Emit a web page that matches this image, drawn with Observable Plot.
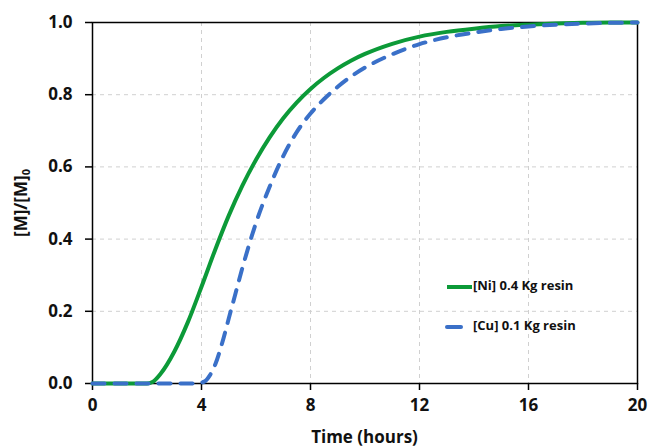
<!DOCTYPE html>
<html>
<head>
<meta charset="utf-8">
<script src="https://cdn.jsdelivr.net/npm/d3@7"></script>
<script src="https://cdn.jsdelivr.net/npm/@observablehq/plot@0.6"></script>
<style>
  html, body { margin: 0; padding: 0; background: #fff; }
  #chart { width: 651px; height: 447px; }
  svg { font-family: "Open Sans", sans-serif; }
</style>
</head>
<body>
<div id="chart"></div>
<script>
// Data
const timeNi = [0, 1, 2, 2.2, 2.5, 3, 3.5, 4, 4.5, 5, 5.5, 6, 6.5, 7, 7.5, 8, 8.5, 9, 9.5, 10, 11, 12, 13, 14, 15, 16, 17, 18, 19, 20];
const valueNi = [0, 0, 0, 0.004, 0.027, 0.088, 0.17, 0.268, 0.37, 0.465, 0.548, 0.62, 0.682, 0.735, 0.779, 0.816, 0.847, 0.873, 0.895, 0.913, 0.941, 0.961, 0.974, 0.983, 0.99, 0.994, 0.997, 0.999, 1, 1];
const timeCu = [0, 1, 2, 3, 3.8, 4.1, 4.3, 4.5, 4.75, 5, 5.25, 5.5, 5.75, 6, 6.5, 7, 7.5, 8, 8.5, 9, 9.5, 10, 11, 12, 13, 14, 15, 16, 17, 18, 19, 20];
const valueCu = [0, 0, 0, 0, 0, 0.005, 0.022, 0.052, 0.11, 0.18, 0.25, 0.32, 0.385, 0.445, 0.545, 0.63, 0.697, 0.748, 0.788, 0.822, 0.851, 0.875, 0.912, 0.94, 0.959, 0.972, 0.982, 0.989, 0.994, 0.997, 0.999, 1];
const xTicks = [0, 4, 8, 12, 16, 20];
const yTicks = [0, 0.2, 0.4, 0.6, 0.8, 1.0];
const seriesNames = ["[Ni] 0.4 Kg resin", "[Cu] 0.1 Kg resin"];
const seriesColors = ["#0c9a38", "#3a70c8"];

const ni = timeNi.map((t, i) => ({t, v: valueNi[i]}));
const cu = timeCu.map((t, i) => ({t, v: valueCu[i]}));

const chart = Plot.plot({
  width: 651,
  height: 447,
  marginLeft: 92,
  marginRight: 14,
  marginTop: 22,
  marginBottom: 64,
  style: {fontFamily: "'Open Sans', sans-serif", background: "#fff"},
  x: {domain: [0, 20]},
  y: {domain: [0, 1]},
  marks: [
    Plot.gridX(xTicks, {stroke: "#d0d0d0", strokeOpacity: 1, strokeDasharray: "4,4"}),
    Plot.gridY(yTicks, {stroke: "#d0d0d0", strokeOpacity: 1, strokeDasharray: "4,4"}),
    Plot.frame({stroke: "#000", strokeWidth: 1.5}),
    Plot.axisX({ticks: xTicks, tickSize: 7, tickPadding: 8, tickFormat: d3.format("d"),
      fontSize: 17, fontWeight: "bold", fill: "#111", stroke: "#000", strokeWidth: 1.5, label: null}),
    Plot.axisY({ticks: yTicks, tickSize: 7, tickPadding: 13, tickFormat: d3.format(".1f"),
      fontSize: 17, fontWeight: "bold", fill: "#111", stroke: "#000", strokeWidth: 1.5, label: null}),
    Plot.line(ni, {x: "t", y: "v", stroke: seriesColors[0], strokeWidth: 4, curve: "monotone-x"}),
    Plot.line(cu, {x: "t", y: "v", stroke: seriesColors[1], strokeWidth: 4, curve: "monotone-x",
      strokeDasharray: "12,10", strokeLinecap: "round"})
  ]
});
document.getElementById("chart").appendChild(chart);

// Axis titles and legend
const svg = d3.select(chart);
svg.selectAll("g[aria-label='x-axis tick label'] text, g[aria-label='y-axis tick label'] text").attr("stroke", "none");

svg.append("text")
  .attr("x", 364.5).attr("y", 438)
  .attr("text-anchor", "middle").attr("dominant-baseline", "middle")
  .attr("font-size", 17).attr("font-weight", "bold").attr("fill", "#111")
  .text("Time (hours)");

const yl = svg.append("text")
  .attr("transform", "translate(22,203) rotate(-90)")
  .attr("text-anchor", "middle").attr("dominant-baseline", "middle")
  .attr("font-size", 17).attr("font-weight", "bold").attr("fill", "#111");
yl.append("tspan").text("[M]/[M]");
yl.append("tspan").attr("font-size", 11).attr("dy", 5).text("0");

const lg = svg.append("g").attr("font-size", 13).attr("font-weight", "bold").attr("fill", "#111")
  .attr("text-anchor", "start");
seriesNames.forEach((name, i) => {
  const y = 287 + i * 40;
  lg.append("line")
    .attr("x1", 447).attr("x2", i === 0 ? 472 : 461).attr("y1", y).attr("y2", y)
    .attr("stroke", seriesColors[i]).attr("stroke-width", 4)
    .attr("stroke-linecap", i === 0 ? "butt" : "round");
  lg.append("text").attr("x", 473).attr("y", y)
    .attr("text-anchor", "start").attr("dominant-baseline", "middle").text(name);
});
</script>
</body>
</html>
